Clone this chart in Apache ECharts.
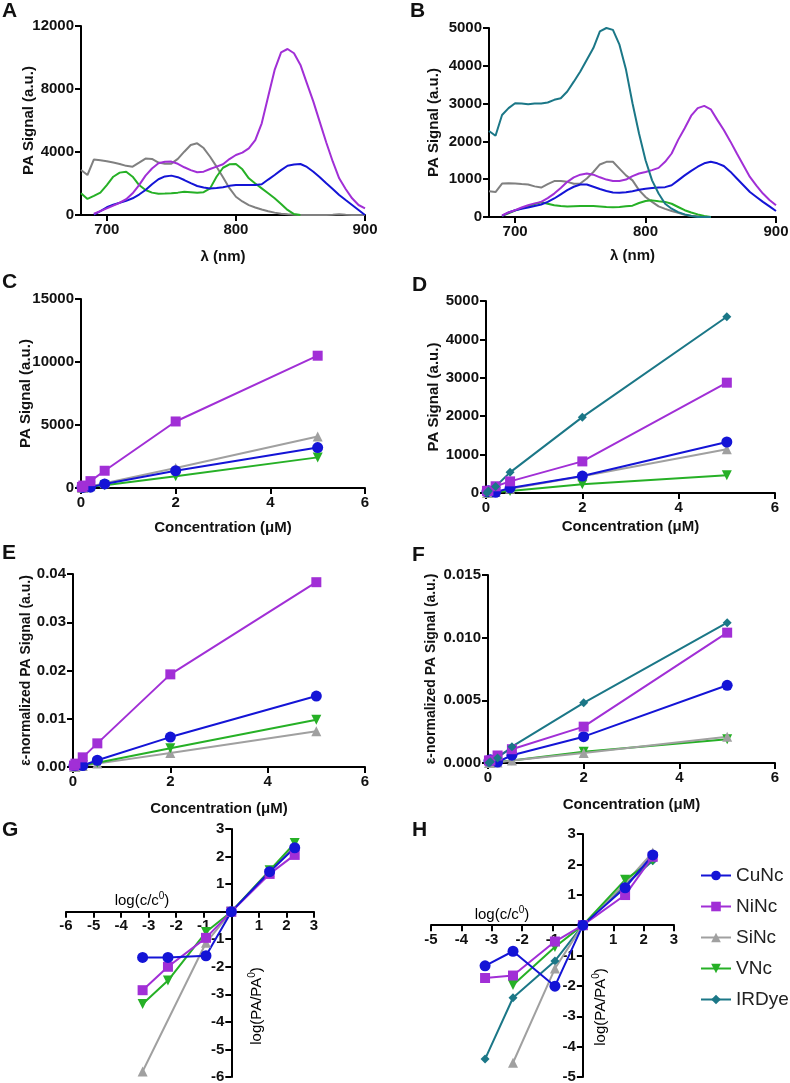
<!DOCTYPE html>
<html lang="en">
<head>
	<meta charset="UTF-8">
	<title>PA signal panels</title>
	<style>
		html, body { margin: 0; padding: 0; background: #fff; }
		#main { width: 790px; height: 1083px; }
	</style>
</head>
<body>
	<div id="main"></div>
	<script src="https://cdn.jsdelivr.net/npm/echarts@6/dist/echarts.min.js"></script>
	<script>
		// ---- data ----
		var lam = [680,685,690,695,700,705,710,715,720,725,730,735,740,745,750,755,760,765,770,775,780,785,790,795,800,805,810,815,820,825,830,835,840,845,850,855,860,865,870,875,880,885,890,895,900];

		// A: spectra, nanoparticles
		var aCu = [null,null,20,250,490,650,780,900,1060,1300,1590,1950,2270,2450,2500,2400,2220,2020,1840,1740,1690,1720,1760,1850,1900,1900,1900,1900,1950,2250,2540,2850,3130,3200,3240,3050,2750,2400,2010,1650,1270,950,635,320,0];
		var aNi = [null,null,80,250,420,600,780,1000,1380,1900,2500,2950,3280,3380,3390,3250,3030,2850,2710,2750,2920,3070,3220,3550,3810,3960,4230,4760,5820,7520,9210,10330,10540,10270,9530,8360,7200,5900,4600,3400,2330,1650,1060,635,420];
		var aSi = [2860,2540,3530,3470,3410,3330,3240,3120,3070,3320,3580,3560,3330,3250,3260,3560,4020,4440,4550,4250,3700,3070,2400,1700,1160,860,630,480,350,240,150,80,40,10,0,0,0,0,0,20,50,20,0,0,0];
		var aV  = [1380,1020,1210,1420,1900,2430,2690,2750,2430,1900,1590,1420,1350,1360,1380,1420,1480,1450,1420,1450,1690,2430,3000,3220,3240,2900,2330,2000,1690,1380,1060,700,320,60,0,null,null,null,null,null,null,null,null,null,null];

		// B: spectra, dyes
		var bCu = [null,null,30,120,180,220,250,290,330,400,490,600,710,800,860,860,800,740,690,650,640,655,680,720,750,770,780,790,840,970,1100,1220,1330,1420,1460,1420,1350,1200,1020,840,660,530,400,280,160];
		var bNi = [null,null,40,120,180,250,310,360,400,500,620,770,930,1050,1120,1150,1120,1050,990,950,955,990,1080,1150,1190,1240,1300,1460,1680,2040,2350,2680,2880,2940,2850,2570,2300,2000,1680,1370,1060,830,620,450,310];
		var bSi = [680,660,885,890,885,870,860,810,780,870,950,955,930,880,885,1020,1190,1390,1460,1460,1280,1100,970,710,530,400,280,215,160,110,60,35,20,5,0,null,null,null,null,null,null,null,null,null,null];
		var bV  = [null,null,30,100,170,230,280,340,390,350,310,290,280,285,290,290,290,280,265,260,265,285,300,370,425,440,415,400,350,265,180,120,70,25,0,null,null,null,null,null,null,null,null,null,null];
		var bIR = [2275,2150,2700,2880,3010,3000,2980,3000,3000,3030,3100,3140,3320,3580,3850,4160,4470,4910,5000,4950,4560,3900,3010,2210,1500,970,620,350,220,130,70,25,0,0,0,null,null,null,null,null,null,null,null,null,null];

		var conc = [0.02, 0.05, 0.2, 0.5, 2, 5];

		// C
		var cCu = [65, 65, 68, 321, 1370, 3210];
		var cNi = [83, 195, 545, 1370, 5280, 10500];
		var cSi = [1, 0, 130, 372, 1585, 4090];
		var cV  = [8, 18, 104, 210, 940, 2430];
		// D
		var dCu = [34, 57, 18, 133, 442, 1328];
		var dNi = [54, 58, 175, 303, 823, 2873];
		var dSi = [0, 1, 25, 108, 438, 1137];
		var dV  = [0, 8, 25, 54, 230, 460];
		var dIR = [7, 49, 170, 538, 1975, 4590];
		// E
		var eCu = [0.0003, 0.0003, 0.0003, 0.0014, 0.0062, 0.0147];
		var eNi = [0.0003, 0.0007, 0.0020, 0.0049, 0.0192, 0.0383];
		var eSi = [0, 0, 0.0002, 0.0007, 0.0029, 0.0074];
		var eV  = [0.00003, 0.00007, 0.0004, 0.0009, 0.0039, 0.0098];
		// F
		var fCu = [0.00016, 0.00026, 0.00008, 0.00062, 0.0021, 0.0062];
		var fNi = [0.0002, 0.0002, 0.0006, 0.0011, 0.0029, 0.0104];
		var fSi = [0, 0, 0.00004, 0.0002, 0.0008, 0.0021];
		var fV  = [0, 0, 0.00009, 0.0002, 0.0009, 0.0019];
		var fIR = [0.00002, 0.0001, 0.0004, 0.0013, 0.0048, 0.0112];

		// G / H : log(c/c0) vs log(PA/PA0)
		var logc = [-3.22, -2.3, -0.92, 0, 1.39, 2.3];
		var gCu = [-1.66, -1.66, -1.6, 0, 1.45, 2.32];
		var gNi = [-2.85, -2.0, -0.95, 0, 1.37, 2.06];
		var gSi = [-5.8, null, -1.13, 0, 1.45, 2.4];
		var gV  = [-3.35, -2.5, -0.74, 0, 1.5, 2.49];
		var hCu = [-1.34, -0.86, -2.01, 0, 1.23, 2.31];
		var hNi = [-1.74, -1.66, -0.54, 0, 0.99, 2.25];
		var hSi = [null, -4.53, -1.43, 0, 1.38, 2.39];
		var hV  = [null, -1.97, -0.72, 0, 1.49, 2.14];
		var hIR = [-4.41, -2.39, -1.18, 0, 1.32, 2.12];

		var names = ['CuNc', 'NiNc', 'SiNc', 'VNc', 'IRDye'];

		// ---- styles ----
		var FONT = '"Liberation Sans", Arial, sans-serif';
		var col = { CuNc: '#1414d6', NiNc: '#a12fd6', SiNc: '#a0a0a0', VNc: '#26b026', IRDye: '#1b7787' };
		var specGray = '#808080';
		var sym = {
			CuNc: ['circle', 11, 0],
			NiNc: ['rect', 10, 0],
			SiNc: ['triangle', 10, 0],
			VNc: ['triangle', 10, 180],
			IRDye: ['diamond', 9, 0]
		};

		function pairs(xs, ys) {
			return xs.map(function (x, i) { return [x, ys[i]]; });
		}

		function ser(name, gi, xs, ys, withSym) {
			var c = col[name];
			if (!withSym && name === 'SiNc') c = specGray;
			var s = {
				type: 'line',
				name: name,
				xAxisIndex: gi,
				yAxisIndex: gi,
				data: pairs(xs, ys),
				connectNulls: true,
				lineStyle: { width: 2, color: c },
				itemStyle: { color: c },
				emphasis: { disabled: true },
				z: 3
			};
			if (withSym) {
				s.symbol = sym[name][0];
				s.symbolSize = sym[name][1];
				s.symbolRotate = sym[name][2];
			} else {
				s.symbol = 'none';
				s.showSymbol = false;
			}
			return s;
		}

		function axLine() {
			return { show: true, onZero: false, lineStyle: { color: '#000', width: 2 } };
		}
		function tick() {
			return { show: true, length: 6, lineStyle: { color: '#000', width: 2 } };
		}
		function plain(v) { return String(v); }
		function lbl(fmt) {
			return { color: '#111', fontSize: 15, fontWeight: 'bold', fontFamily: FONT, margin: 7, formatter: fmt || plain };
		}
		function nameStyle(sz) {
			return { color: '#111', fontSize: sz || 15, fontWeight: 'bold', fontFamily: FONT };
		}

		function xAx(gi, min, max, interval, name, gap, custom) {
			var a = {
				type: 'value', gridIndex: gi, min: min, max: max,
				axisLine: axLine(), axisTick: tick(),
				axisLabel: lbl(), splitLine: { show: false }
			};
			if (interval) a.interval = interval;
			if (custom) {
				a.axisTick.customValues = custom;
				a.axisLabel.customValues = custom;
			}
			if (name) {
				a.name = name; a.nameLocation = 'middle'; a.nameGap = gap;
				a.nameMoveOverlap = false;
				a.nameTextStyle = nameStyle();
			}
			return a;
		}
		function yAx(gi, min, max, interval, name, gap, fmt, nsz) {
			var a = {
				type: 'value', gridIndex: gi, min: min, max: max, interval: interval,
				axisLine: axLine(), axisTick: tick(), axisLabel: lbl(fmt), splitLine: { show: false }
			};
			if (name) {
				a.name = name; a.nameLocation = 'middle'; a.nameGap = gap;
				a.nameMoveOverlap = false;
				a.nameTextStyle = nameStyle(nsz);
			}
			return a;
		}
		function noZero(v) { return v === 0 ? '' : String(v); }

		var grids = [
			{ left: 81, top: 26, width: 284, height: 189 },    // A
			{ left: 489, top: 28, width: 287, height: 189 },   // B
			{ left: 81, top: 299, width: 284, height: 189 },   // C
			{ left: 486, top: 301, width: 289, height: 192 },  // D
			{ left: 73, top: 574, width: 292, height: 193 },   // E
			{ left: 488, top: 575, width: 287, height: 188 },  // F
			{ left: 66, top: 829, width: 248, height: 248 },   // G
			{ left: 431, top: 834, width: 243, height: 243 }   // H
		];
		grids.forEach(function (g) { g.outerBoundsMode = 'none'; g.containLabel = false; });

		var xAxes = [
			xAx(0, 680, 900, null, 'λ (nm)', 34, [700, 800, 900]),
			xAx(1, 680, 900, null, 'λ (nm)', 31, [700, 800, 900]),
			xAx(2, 0, 6, 2, 'Concentration (μM)', 32),
			xAx(3, 0, 6, 2, 'Concentration (μM)', 26),
			xAx(4, 0, 6, 2, 'Concentration (μM)', 34),
			xAx(5, 0, 6, 2, 'Concentration (μM)', 34),
			xAx(6, -6, 3, 1),
			xAx(7, -5, 3, 1)
		];

		var yAxes = [
			yAx(0, 0, 12000, 4000, 'PA Signal (a.u.)', 45),
			yAx(1, 0, 5000, 1000, 'PA Signal (a.u.)', 48),
			yAx(2, 0, 15000, 5000, 'PA Signal (a.u.)', 48),
			yAx(3, 0, 5000, 1000, 'PA Signal (a.u.)', 45),
			yAx(4, 0, 0.04, 0.01, 'ε-normalized PA Signal (a.u.)', 40, function (v) { return v.toFixed(2); }, 14),
			yAx(5, 0, 0.015, 0.005, 'ε-normalized PA Signal (a.u.)', 50, function (v) { return v.toFixed(3); }, 14),
			yAx(6, -6, 3, 1, null, 0, noZero),
			yAx(7, -5, 3, 1, null, 0, noZero)
		];

		// G and H: axes cross at the origin, move them in from the grid edges
		[6, 7].forEach(function (i) {
			var g = grids[i], xa = xAxes[i], ya = yAxes[i];
			xa.axisLabel.formatter = noZero;
			xa.offset = -g.height * (0 - ya.min) / (ya.max - ya.min);
			ya.offset = -g.width * (0 - xa.min) / (xa.max - xa.min);
		});

		var series = [];
		// D first so the legend picks up markers for every name
		series.push(ser('SiNc', 3, conc, dSi, true));
		series.push(ser('VNc', 3, conc, dV, true));
		series.push(ser('CuNc', 3, conc, dCu, true));
		series.push(ser('NiNc', 3, conc, dNi, true));
		series.push(ser('IRDye', 3, conc, dIR, true));
		// A
		series.push(ser('SiNc', 0, lam, aSi));
		series.push(ser('VNc', 0, lam, aV));
		series.push(ser('CuNc', 0, lam, aCu));
		series.push(ser('NiNc', 0, lam, aNi));
		// B
		series.push(ser('SiNc', 1, lam, bSi));
		series.push(ser('VNc', 1, lam, bV));
		series.push(ser('CuNc', 1, lam, bCu));
		series.push(ser('NiNc', 1, lam, bNi));
		series.push(ser('IRDye', 1, lam, bIR));
		// C
		series.push(ser('VNc', 2, conc, cV, true));
		series.push(ser('SiNc', 2, conc, cSi, true));
		series.push(ser('CuNc', 2, conc, cCu, true));
		series.push(ser('NiNc', 2, conc, cNi, true));
		// E
		series.push(ser('SiNc', 4, conc, eSi, true));
		series.push(ser('VNc', 4, conc, eV, true));
		series.push(ser('CuNc', 4, conc, eCu, true));
		series.push(ser('NiNc', 4, conc, eNi, true));
		// F
		series.push(ser('VNc', 5, conc, fV, true));
		series.push(ser('SiNc', 5, conc, fSi, true));
		series.push(ser('CuNc', 5, conc, fCu, true));
		series.push(ser('NiNc', 5, conc, fNi, true));
		series.push(ser('IRDye', 5, conc, fIR, true));
		// G
		series.push(ser('SiNc', 6, logc, gSi, true));
		series.push(ser('VNc', 6, logc, gV, true));
		series.push(ser('NiNc', 6, logc, gNi, true));
		series.push(ser('CuNc', 6, logc, gCu, true));
		// H
		series.push(ser('IRDye', 7, logc, hIR, true));
		series.push(ser('SiNc', 7, logc, hSi, true));
		series.push(ser('VNc', 7, logc, hV, true));
		series.push(ser('NiNc', 7, logc, hNi, true));
		series.push(ser('CuNc', 7, logc, hCu, true));

		function letter(t, l, tp) {
			return { text: t, left: l, top: tp, padding: 0,
				textStyle: { fontSize: 21, fontWeight: 'bold', color: '#111', fontFamily: FONT } };
		}

		var supRich = {
			n: { fontSize: 15, fontFamily: FONT, color: '#222', lineHeight: 17, verticalAlign: 'bottom' },
			s: { fontSize: 10, fontFamily: FONT, color: '#222', lineHeight: 17, verticalAlign: 'top' }
		};
		function axText(x, y, txt, rot) {
			return {
				type: 'text', x: x, y: y, rotation: rot || 0, z: 10,
				style: { text: txt, rich: supRich, align: 'center', verticalAlign: 'middle' }
			};
		}

		var myChart = echarts.init(document.getElementById('main'), null, { renderer: 'canvas' });
		var option = {
			animation: false,
			backgroundColor: '#fff',
			title: [
				letter('A', 2, 1), letter('B', 410, 1),
				letter('C', 2, 272), letter('D', 412, 275),
				letter('E', 2, 543), letter('F', 412, 545),
				letter('G', 2, 820), letter('H', 412, 820)
			],
			legend: {
				data: names,
				orient: 'vertical',
				left: 695,
				top: 861,
				itemWidth: 30,
				itemHeight: 12,
				itemGap: 12,
				textStyle: { fontSize: 19, color: '#222', fontFamily: FONT }
			},
			grid: grids,
			xAxis: xAxes,
			yAxis: yAxes,
			series: series,
			graphic: [
				axText(142, 900, '{n|log(c/c}{s|0}{n|)}'),
				axText(256, 1006, '{n|log(PA/PA}{s|0}{n|)}', Math.PI / 2),
				axText(502, 914, '{n|log(c/c}{s|0}{n|)}'),
				axText(600, 1007, '{n|log(PA/PA}{s|0}{n|)}', Math.PI / 2)
			]
		};
		myChart.setOption(option);
	</script>
</body>
</html>
